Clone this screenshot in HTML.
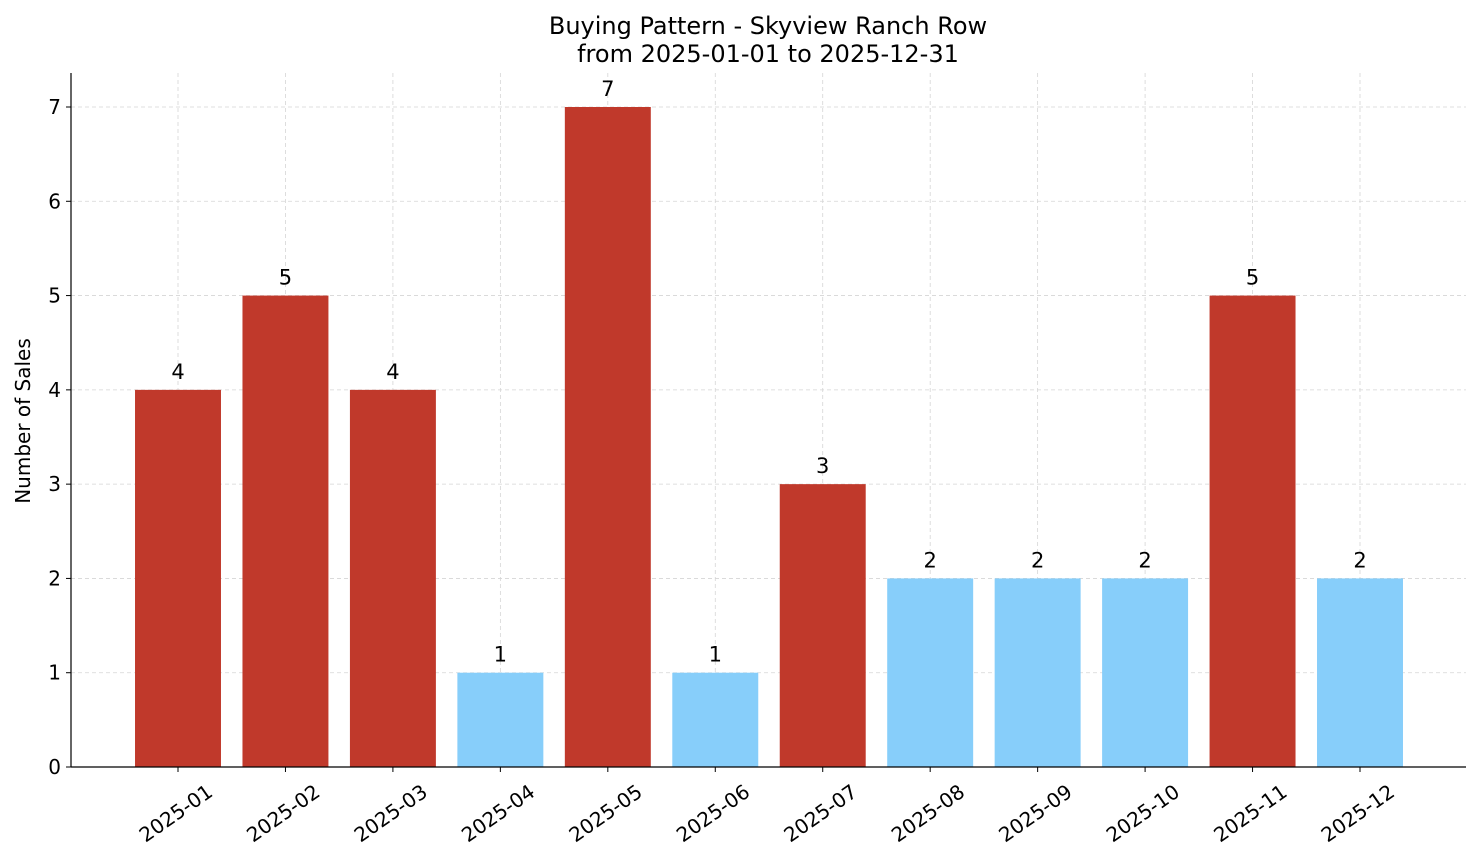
<!DOCTYPE html>
<html><head><meta charset="utf-8"><style>
body{margin:0;background:#fff}
svg{display:block;font-family:"DejaVu Sans","Liberation Sans",sans-serif}
</style></head><body>
<svg id="chart" width="1481" height="863">
<text x="768" y="34" text-anchor="middle" font-size="24">Buying Pattern - Skyview Ranch Row</text>
<text x="768" y="62" text-anchor="middle" font-size="24">from 2025-01-01 to 2025-12-31</text>
<text transform="translate(30,421) rotate(-90)" text-anchor="middle" font-size="20">Number of Sales</text>
<g id="grid"></g><g id="bars"></g><g id="axes"></g>
</svg>
<script>
const categories=["2025-01","2025-02","2025-03","2025-04","2025-05","2025-06","2025-07","2025-08","2025-09","2025-10","2025-11","2025-12"];
const values=[4,5,4,1,7,1,3,2,2,2,5,2];
const yTicks=[0,1,2,3,4,5,6,7];
const threshold=3;
const NS="http://www.w3.org/2000/svg";
const L=71,R=1466,B=767,T=73;
const step=(1360-178)/11;
const x=i=>178+i*step;
const y=v=>B-v*(660/7);
const bw=step*0.8;
function mk(tag,attrs,parent,text){const e=document.createElementNS(NS,tag);for(const k in attrs)e.setAttribute(k,attrs[k]);if(text!==undefined)e.textContent=text;document.getElementById(parent).appendChild(e);return e;}
yTicks.forEach(t=>{
 const g=mk('line',{x1:L,x2:R,y1:y(t),y2:y(t),stroke:'#d5d5d5','stroke-dasharray':'4,3','stroke-width':0.8},'grid');
 
 
 const tk=mk('line',{x1:L-5,x2:L,y1:y(t),y2:y(t),stroke:'#000'},'axes');
 
 
 const lb=mk('text',{x:L-10,y:y(t)+7,'text-anchor':'end','font-size':20},'axes',String(t));
 
 
});
categories.forEach((c,i)=>{
 const g=mk('line',{x1:x(i),x2:x(i),y1:T,y2:B,stroke:'#d5d5d5','stroke-dasharray':'4,3','stroke-width':0.8},'grid');
 
 
 const v=values[i];
 const r=mk('rect',{x:x(i)-bw/2,y:y(v),width:bw,height:B-y(v),fill:v>=threshold?'#c0392b':'#87cefa'},'bars');
 
 
 const vl=mk('text',{x:x(i),y:y(v)-11,'text-anchor':'middle','font-size':21},'bars',String(v));
 
 
 const tk=mk('line',{x1:x(i),x2:x(i),y1:B,y2:B+5,stroke:'#000'},'axes');
 
 
 const lb=mk('text',{transform:`translate(${x(i)+36},${B+28}) rotate(-35)`,'text-anchor':'end','font-size':20},'axes',c);
 
 
});
const ly=mk('line',{x1:L,x2:L,y1:T,y2:B,stroke:'#000','stroke-width':1.2},'axes');


const lx=mk('line',{x1:L,x2:R,y1:B,y2:B,stroke:'#000','stroke-width':1.2},'axes');


</script>
</body></html>
